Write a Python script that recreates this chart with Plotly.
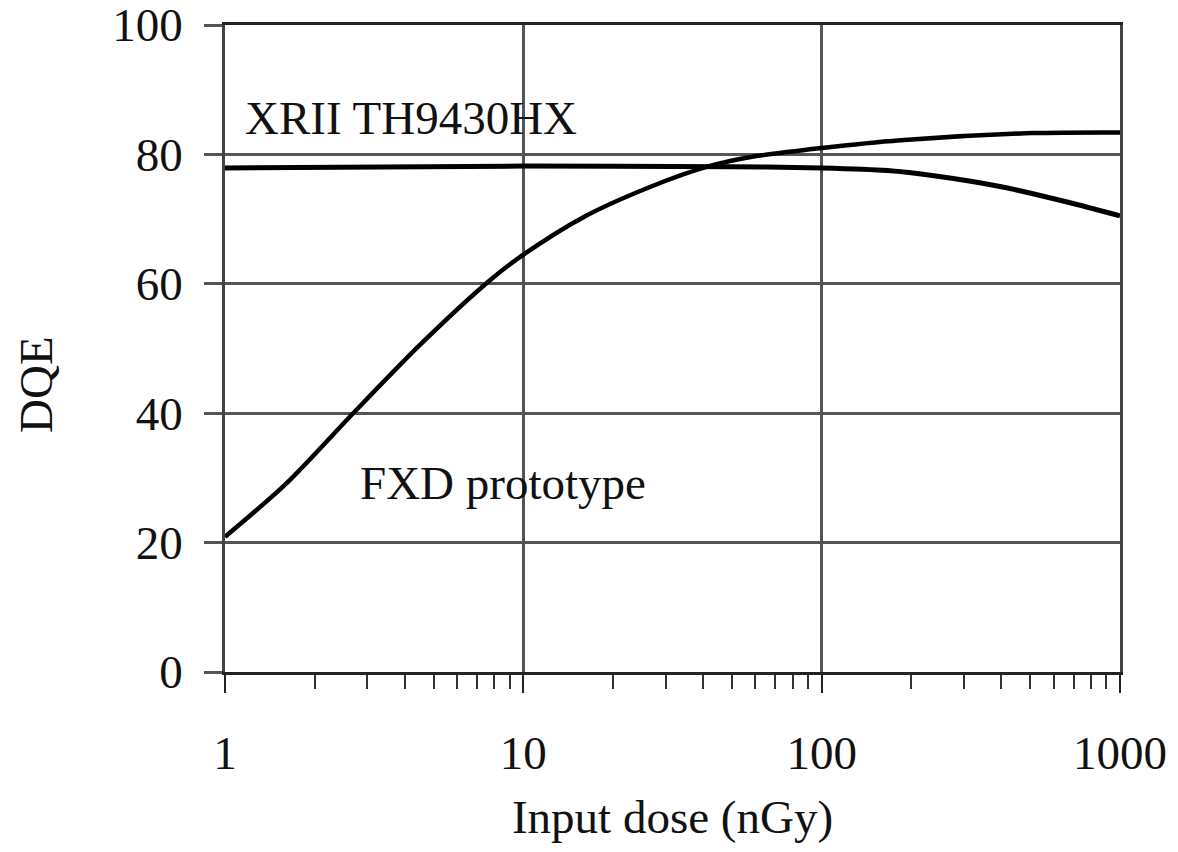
import plotly.graph_objects as go

# FXD prototype curve
fxd_dose = [1, 1.61, 2.69, 4.51, 7.75, 10, 15.9, 26.7, 41.4, 57.8, 100, 184, 514, 1000]
fxd_dqe = [20.9, 29.2, 40.0, 50.6, 60.6, 64.5, 70.3, 75.0, 78.1, 79.6, 81.0, 82.2, 83.3, 83.4]

# XRII TH9430HX curve
xrii_dose = [1, 10, 50, 100, 166, 238, 400, 670, 1000]
xrii_dqe = [77.9, 78.2, 78.1, 77.9, 77.5, 76.7, 75.0, 72.6, 70.5]

x_tick_vals = [1, 10, 100, 1000]
x_tick_text = ["1", "10", "100", "1000"]
x_minor_vals = [m * d for d in (1, 10, 100) for m in range(2, 10)]
y_tick_vals = [0, 20, 40, 60, 80, 100]

FONT = "Liberation Serif"

fig = go.Figure()
fig.add_trace(go.Scatter(x=xrii_dose, y=xrii_dqe, mode="lines",
                         line=dict(color="black", width=5, shape="spline", smoothing=0.8),
                         showlegend=False, cliponaxis=False))
fig.add_trace(go.Scatter(x=fxd_dose, y=fxd_dqe, mode="lines",
                         line=dict(color="black", width=4.5, shape="spline", smoothing=0.8),
                         showlegend=False, cliponaxis=False))

fig.add_annotation(x=0.06, y=85.6, xref="x", yref="y", text="XRII TH9430HX",
                   showarrow=False, xanchor="left", yanchor="middle",
                   font=dict(family=FONT, size=47, color="#111"))
fig.add_annotation(x=0.446, y=29.2, xref="x", yref="y", text="FXD prototype",
                   showarrow=False, xanchor="left", yanchor="middle",
                   font=dict(family=FONT, size=47, color="#111"))
# y-axis title placed as rotated text
fig.add_annotation(x=-0.212, y=0.444, xref="paper", yref="paper", text="DQE",
                   showarrow=False, textangle=-90, xanchor="center", yanchor="middle",
                   font=dict(family=FONT, size=47, color="#111"))

fig.update_layout(
    width=1178, height=852,
    margin=dict(l=225, r=58, t=25, b=180),
    paper_bgcolor="white", plot_bgcolor="white",
    font=dict(family=FONT, size=47, color="#111"),
    xaxis=dict(
        type="log", range=[0, 3], automargin=False,
        tickvals=x_tick_vals, ticktext=x_tick_text,
        ticks="outside", ticklen=18, tickwidth=2, tickcolor="#222",
        showgrid=True, gridcolor="#555", gridwidth=2.5,
        showline=True, linecolor="#222", linewidth=2.5, mirror=True,
        minor=dict(tickmode="array", tickvals=x_minor_vals, ticks="outside",
                   ticklen=14, tickwidth=2, tickcolor="#333", showgrid=False),
        ticklabelstandoff=20,
        title=dict(text="Input dose (nGy)", font=dict(family=FONT, size=47), standoff=22),
        zeroline=False,
    ),
    yaxis=dict(
        range=[0, 100], automargin=False,
        tickvals=y_tick_vals,
        ticks="outside", ticklen=18, tickwidth=2.5, tickcolor="#555",
        showgrid=True, gridcolor="#555", gridwidth=2.5,
        showline=True, linecolor="#444", linewidth=2.5, mirror=True,
        ticklabelstandoff=12, ticklabeloverflow="allow",
        zeroline=False,
    ),
)

fig.write_html("out.html")
